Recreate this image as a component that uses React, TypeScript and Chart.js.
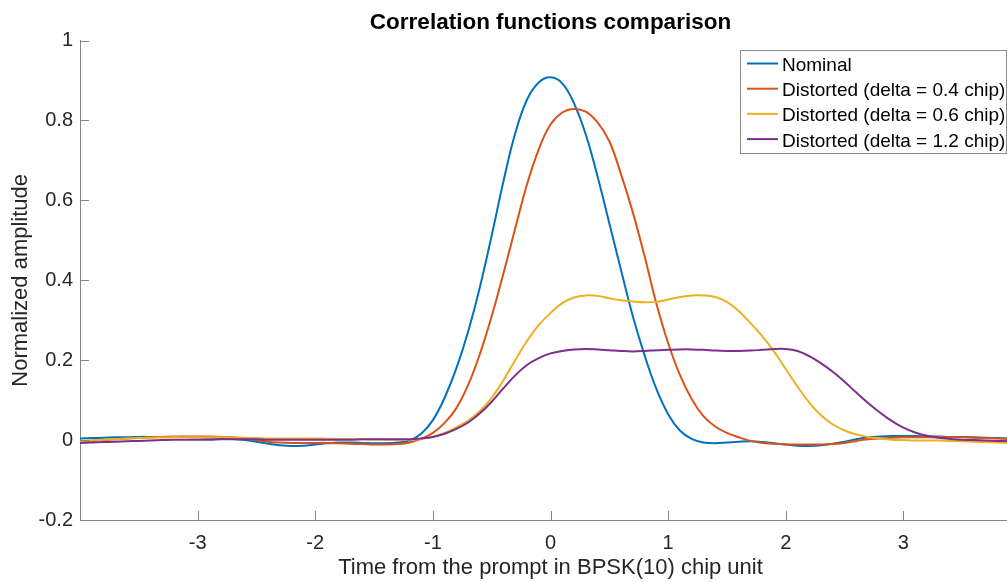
import React, { useEffect, useRef } from "react";
import { Chart, registerables } from "chart.js";

Chart.register(...registerables);

const xValues = [
  -4.0, -3.9, -3.8, -3.7, -3.6, -3.5, -3.4, -3.3, -3.2, -3.1,
  -3.0, -2.9, -2.8, -2.7, -2.6, -2.5, -2.4, -2.3, -2.2, -2.1,
  -2.0, -1.9, -1.8, -1.7, -1.6, -1.5, -1.4, -1.3, -1.2, -1.1,
  -1.0, -0.9, -0.8, -0.7, -0.6, -0.5, -0.4, -0.3, -0.2, -0.1,
  0.0, 0.1, 0.2, 0.3, 0.4, 0.5, 0.6, 0.7, 0.8, 0.9,
  1.0, 1.1, 1.2, 1.3, 1.4, 1.5, 1.6, 1.7, 1.8, 1.9,
  2.0, 2.1, 2.2, 2.3, 2.4, 2.5, 2.6, 2.7, 2.8, 2.9,
  3.0, 3.1, 3.2, 3.3, 3.4, 3.5, 3.6, 3.7, 3.8, 3.9,
  4.0,
];

const nominal = [
  0.004, 0.005, 0.006, 0.007, 0.007, 0.008, 0.008, 0.008, 0.008, 0.008,
  0.007, 0.006, 0.005, 0.003, 0.0, -0.004, -0.009, -0.013, -0.015, -0.014,
  -0.011, -0.008, -0.006, -0.006, -0.007, -0.008, -0.008, -0.006, -0.001, 0.016,
  0.05, 0.106, 0.18, 0.272, 0.383, 0.512, 0.648, 0.768, 0.852, 0.895,
  0.908, 0.893, 0.843, 0.765, 0.66, 0.543, 0.425, 0.31, 0.212, 0.128,
  0.065, 0.024, 0.003, -0.006, -0.008, -0.006, -0.004, -0.003, -0.005, -0.008,
  -0.011, -0.014, -0.015, -0.013, -0.009, -0.004, 0.002, 0.007, 0.009, 0.01,
  0.01, 0.01, 0.009, 0.009, 0.008, 0.008, 0.007, 0.006, 0.005, 0.004,
  0.003,
];

const distorted04 = [
  -0.004, -0.002, 0.0, 0.002, 0.004, 0.006, 0.007, 0.008, 0.009, 0.009,
  0.009, 0.009, 0.008, 0.007, 0.004, 0.0, -0.004, -0.006, -0.007, -0.007,
  -0.007, -0.007, -0.008, -0.009, -0.01, -0.011, -0.011, -0.01, -0.006, 0.003,
  0.018, 0.043, 0.08, 0.138, 0.216, 0.31, 0.417, 0.53, 0.64, 0.728,
  0.79, 0.82, 0.829, 0.822, 0.795, 0.748, 0.665, 0.57, 0.46, 0.342,
  0.243, 0.163, 0.103, 0.06, 0.034, 0.018, 0.007, -0.002, -0.007, -0.009,
  -0.011, -0.011, -0.011, -0.011, -0.01, -0.007, -0.002, 0.002, 0.004, 0.006,
  0.007, 0.007, 0.007, 0.007, 0.007, 0.007, 0.006, 0.005, 0.004, 0.003,
  0.002,
];

const distorted06 = [
  -0.002, -0.0005, 0.001, 0.003, 0.004, 0.005, 0.006, 0.0065, 0.007, 0.007,
  0.007, 0.007, 0.007, 0.0065, 0.006, 0.005, 0.004, 0.004, 0.004, 0.004,
  0.004, 0.0035, 0.003, 0.0025, 0.002, 0.0015, 0.001, 0.001, 0.001, 0.003,
  0.008, 0.018, 0.032, 0.049, 0.073, 0.106, 0.15, 0.2, 0.248, 0.288,
  0.318, 0.343, 0.357, 0.362, 0.361, 0.355, 0.35, 0.347, 0.345, 0.346,
  0.352, 0.358, 0.362, 0.362, 0.358, 0.346, 0.323, 0.293, 0.26, 0.222,
  0.178, 0.134, 0.094, 0.062, 0.039, 0.024, 0.014, 0.008, 0.004, 0.001,
  0.0, -0.001, -0.001, -0.001, -0.002, -0.003, -0.004, -0.005, -0.006, -0.007,
  -0.008,
];

const distorted12 = [
  -0.007, -0.006, -0.005, -0.004, -0.003, -0.002, -0.001, 0.0, 0.001, 0.001,
  0.001, 0.001, 0.002, 0.002, 0.002, 0.002, 0.001, 0.001, 0.001, 0.001,
  0.001, 0.001, 0.001, 0.001, 0.002, 0.002, 0.002, 0.002, 0.002, 0.004,
  0.008, 0.016, 0.028, 0.044, 0.067, 0.096, 0.13, 0.162, 0.188, 0.205,
  0.217, 0.223, 0.227, 0.228, 0.227, 0.225, 0.223, 0.222, 0.223, 0.225,
  0.226, 0.227, 0.227, 0.226, 0.224, 0.223, 0.223, 0.224, 0.226, 0.228,
  0.228, 0.223, 0.21, 0.192, 0.171, 0.146, 0.119, 0.093, 0.069, 0.048,
  0.031, 0.019, 0.011, 0.006, 0.003, 0.001, 0.0, -0.001, -0.002, -0.003,
  -0.004,
];

const seriesNames = [
  "Nominal",
  "Distorted (delta = 0.4 chip)",
  "Distorted (delta = 0.6 chip)",
  "Distorted (delta = 1.2 chip)",
];
const seriesColors = ["#0072BD", "#D95319", "#EDB120", "#7E2F8E"];

const xTickValues = [-3, -2, -1, 0, 1, 2, 3];
const xTickLabels = ["-3", "-2", "-1", "0", "1", "2", "3"];
const yTickValues = [-0.2, 0, 0.2, 0.4, 0.6, 0.8, 1];
const yTickLabels = ["-0.2", "0", "0.2", "0.4", "0.6", "0.8", "1"];

const titleText = "Correlation functions comparison";
const xTitle = "Time from the prompt in BPSK(10) chip unit";
const yTitle = "Normalized amplitude";

const FONT = "'Liberation Sans', Arial, Helvetica, sans-serif";
const AXIS_COLOR = "#858585";
const TEXT_COLOR = "#262626";

const decorPlugin = {
  id: "decor",
  afterDraw(chart: any) {
    const ctx = chart.ctx;
    const area = chart.chartArea;
    const xs = chart.scales.x;
    const ys = chart.scales.y;
    ctx.save();
    // inward tick marks
    ctx.strokeStyle = AXIS_COLOR;
    ctx.lineWidth = 1;
    ctx.beginPath();
    xTickValues.forEach((v) => {
      const px = Math.round(xs.getPixelForValue(v)) + 0.5;
      ctx.moveTo(px, area.bottom);
      ctx.lineTo(px, area.bottom - 9);
    });
    yTickValues.forEach((v) => {
      const py = Math.round(ys.getPixelForValue(v)) + 0.5;
      ctx.moveTo(area.left, py);
      ctx.lineTo(area.left + 9, py);
    });
    ctx.stroke();

    // legend
    const bx = 740.5;
    const by = 50.5;
    const bw = 266;
    const bh = 103;
    ctx.fillStyle = "#ffffff";
    ctx.fillRect(bx, by, bw, bh);
    ctx.strokeStyle = "#8a8a8a";
    ctx.lineWidth = 1;
    ctx.strokeRect(bx, by, bw, bh);
    ctx.font = `19px ${FONT}`;
    ctx.textBaseline = "alphabetic";
    ctx.textAlign = "left";
    seriesNames.forEach((name, i) => {
      const ly = 63.5 + i * 25.2;
      ctx.strokeStyle = seriesColors[i];
      ctx.lineWidth = 2;
      ctx.beginPath();
      ctx.moveTo(747, ly);
      ctx.lineTo(778, ly);
      ctx.stroke();
      ctx.fillStyle = "#000000";
      ctx.fillText(name, 782, ly + 7.5);
    });
    ctx.restore();
  },
};

export default function App() {
  const canvasRef = useRef<HTMLCanvasElement | null>(null);

  useEffect(() => {
    const canvas = canvasRef.current;
    if (!canvas) return;
    Chart.defaults.font.family = FONT;
    const allSeries = [nominal, distorted04, distorted06, distorted12];
    const chart = new Chart(canvas, {
      type: "line",
      data: {
        datasets: allSeries.map((vals, i) => ({
          label: seriesNames[i],
          data: xValues.map((x, j) => ({ x, y: vals[j] })),
          borderColor: seriesColors[i],
          backgroundColor: seriesColors[i],
          borderWidth: 2,
          pointRadius: 0,
          fill: false,
          tension: 0.4,
          order: 4 - i,
        })),
      },
      options: {
        animation: false,
        responsive: false,
        devicePixelRatio: 1,
        events: [],
        layout: { padding: 0 },
        plugins: {
          legend: { display: false },
          tooltip: { enabled: false },
          title: {
            display: true,
            text: titleText,
            fullSize: false,
            color: "#000000",
            font: { size: 22.5, weight: "bold", family: FONT },
            padding: { top: 9.6, bottom: 4 },
          },
        },
        scales: {
          x: {
            type: "linear",
            min: -4,
            max: 4,
            position: "bottom",
            afterBuildTicks: (axis: any) => {
              axis.ticks = xTickValues.map((v) => ({ value: v }));
            },
            afterFit: (axis: any) => {
              axis.height = 62;
            },
            grid: { display: false, drawTicks: false },
            border: { display: true, color: AXIS_COLOR, width: 1 },
            ticks: {
              color: TEXT_COLOR,
              font: { size: 20, family: FONT },
              padding: 11,
              maxRotation: 0,
              autoSkip: false,
              callback: (v: any) => {
                const idx = xTickValues.indexOf(Number(v));
                return idx >= 0 ? xTickLabels[idx] : "";
              },
            },
            title: {
              display: true,
              text: xTitle,
              color: TEXT_COLOR,
              font: { size: 22, family: FONT },
              padding: { top: 0, bottom: 0.5 },
            },
          },
          y: {
            type: "linear",
            min: -0.2,
            max: 1,
            position: "left",
            afterBuildTicks: (axis: any) => {
              axis.ticks = yTickValues.map((v) => ({ value: v }));
            },
            afterFit: (axis: any) => {
              axis.width = 80;
            },
            grid: { display: false, drawTicks: false },
            border: { display: true, color: AXIS_COLOR, width: 1 },
            ticks: {
              color: TEXT_COLOR,
              font: { size: 20, family: FONT },
              padding: 7,
              autoSkip: false,
              callback: (v: any) => {
                const idx = yTickValues.findIndex((t) => Math.abs(t - Number(v)) < 1e-9);
                return idx >= 0 ? yTickLabels[idx] : "";
              },
            },
            title: {
              display: true,
              text: yTitle,
              color: TEXT_COLOR,
              font: { size: 22, family: FONT },
              padding: { top: 7.6, bottom: 0 },
            },
          },
        },
      },
      plugins: [decorPlugin],
    });
    return () => chart.destroy();
  }, []);

  return (
    <div
      style={{
        position: "absolute",
        left: 0,
        top: 0,
        width: 1007,
        height: 582,
        overflow: "hidden",
        background: "#ffffff",
      }}
    >
      <canvas ref={canvasRef} width={1021} height={582} style={{ display: "block" }} />
    </div>
  );
}
